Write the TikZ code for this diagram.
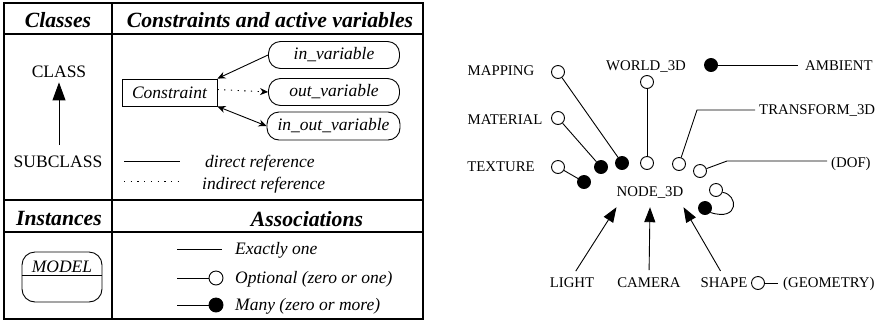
\documentclass[tikz,border=0pt]{standalone}
\usepackage{fontspec}
\setmainfont{Liberation Serif}
\usetikzlibrary{arrows.meta}

\begin{document}
\begin{tikzpicture}[x=1pt,y=-1pt,
  hdr/.style={font=\fontsize{21.7}{24}\selectfont\bfseries\itshape, anchor=base, inner sep=0pt},
  body/.style={font=\fontsize{17.5}{20}\selectfont, anchor=base, inner sep=0pt},
  ibody/.style={font=\fontsize{17.5}{20}\selectfont\itshape, anchor=base, inner sep=0pt},
  lbl/.style={font=\fontsize{14.8}{17}\selectfont, anchor=base, inner sep=0pt},
  rule/.style={line width=1.8pt},
  thin/.style={line width=0.9pt},
  sparse/.style={dash pattern=on 1.3pt off 5.4pt},
  var/.style={draw, thin, rounded corners=12pt, minimum width=131pt, minimum height=27pt,
    inner sep=0pt, font=\fontsize{17.5}{20}\selectfont\itshape},
  opt/.style={draw, thin, circle, fill=white, minimum size=13pt, inner sep=0pt},
  many/.style={draw, thin, circle, fill=black, minimum size=13pt, inner sep=0pt},
  small/.style={-{Stealth[length=8pt,width=7pt]}},
  bigtip/.style={-{Triangle[length=18pt,width=13pt]}},
  isa/.style={-{Triangle[length=15pt,width=11pt]}},
]
\useasboundingbox (0,0) rectangle (875,325);

% ---------------- legend table ----------------
\draw[rule] (4,3) rectangle (423,319);
\draw[rule] (112,3) -- (112,319);
\draw[rule] (4,34) -- (423,34);
\draw[rule] (4,200) -- (423,200);
\draw[rule] (4,232) -- (423,232);

\node[hdr] (hclasses) at (58,27) {Classes};
\node[hdr] (hcons) at (270,27) {Constraints and active variables};
\node[hdr] (hinst) at (59,225) {Instances};
\node[hdr] (hassoc) at (307,226) {Associations};

% class / subclass
\node[body] (cls) at (59,77) {CLASS};
\node[body] (sub) at (58,167) {SUBCLASS};
\draw[thin, bigtip, shorten <=10pt, shorten >=5pt] (sub.north -| cls.south) -- (cls.south);

% constraint and variables
\node[draw, thin, minimum width=95pt, minimum height=27pt, inner sep=0pt,
      font=\fontsize{17.5}{20}\selectfont\itshape] (con) at (169.5,92.5) {Constraint};
\node[var] (inv) at (334,55) {in\_variable};
\node[var] (outv) at (334,92) {out\_variable};
\node[var, minimum width=133pt, minimum height=28pt] (inoutv) at (333.5,126) {in\_out\_variable};
\draw[thin, small] (inv.west) -- (con.north east);
\draw[thin, sparse, small] ([yshift=3pt]con.east) -- (outv.west);
\draw[thin, {Stealth[length=8pt,width=7pt]}-{Stealth[length=8pt,width=7pt]}] (con.south east) -- (inoutv.west);

% reference kinds
\coordinate (dA) at (124,161);
\coordinate (dB) at (180,161);
\coordinate (iA) at (124,181);
\coordinate (iB) at (180,181);
\draw[thin] (dA) -- (dB);
\draw[thin, sparse] (iA) -- (iB);
\node[ibody, anchor=base west] (dtxt) at (205,167) {direct reference};
\node[ibody, anchor=base west] (itxt) at (202,189) {indirect reference};

% instance symbol
\node[draw, thin, rounded corners=13pt, minimum width=80pt, minimum height=50pt] (model) at (62,277) {};
\draw[thin] ([yshift=2pt]model.west) -- ([yshift=2pt]model.east);
\node[ibody] (modelname) at (62,272) {MODEL};

% associations
\coordinate (eA) at (177,249);
\coordinate (eB) at (222,249);
\draw[thin] (eA) -- (eB);
\node[ibody, anchor=base west] (etxt) at (235,254) {Exactly one};
\coordinate (oA) at (177,278);
\node[opt, minimum size=14pt] (oC) at (216,278) {};
\draw[thin] (oA) -- (oC);
\node[ibody, anchor=base west] (otxt) at (235,283) {Optional (zero or one)};
\coordinate (mA) at (177,305);
\node[many, minimum size=14pt] (mC) at (216,305) {};
\draw[thin] (mA) -- (mC);
\node[ibody, anchor=base west] (mtxt) at (235,310) {Many (zero or more)};

% ---------------- NODE_3D schema ----------------
\node[lbl, text height=10pt, text depth=0pt, inner xsep=0pt, inner ysep=11pt, anchor=base]
  (n3d) at (650,196) {NODE\_3D};

\node[lbl] (mapping) at (501,75) {MAPPING};
\node[opt] (mapC) at (558,72) {};
\node[many] (mapF) at (622,163) {};
\draw[thin] (mapC) -- (mapF);

\node[lbl] (material) at (505,124) {MATERIAL};
\node[opt] (matC) at (558,118) {};
\node[many] (matF) at (601,167) {};
\draw[thin] (matC) -- (matF);

\node[lbl] (texture) at (501,171) {TEXTURE};
\node[opt] (texC) at (558,167) {};
\node[many] (texF) at (584,182) {};
\draw[thin] (texC) -- (texF);

\node[lbl] (world) at (646,70) {WORLD\_3D};
\node[opt] (worldC) at (647,82) {};
\node[opt] (worldB) at (647,163) {};
\draw[thin] (worldC) -- (worldB);

\node[many] (ambF) at (711,65) {};
\node[lbl, anchor=base west] (ambient) at (805,70) {AMBIENT};
\draw[thin] (ambF) -- ([xshift=-7pt]ambient.west |- ambF);

\node[lbl, anchor=base west] (transform) at (759,114) {TRANSFORM\_3D};
\coordinate (trK) at (697,110);
\node[opt] (trB) at (679,164) {};
\draw[thin] ([xshift=-4pt]transform.west |- trK) -- (trK) -- (trB);

\node[lbl, anchor=base west] (dof) at (831,167) {(DOF)};
\coordinate (dofK) at (727,161);
\node[opt] (dofB) at (700,171) {};
\draw[thin] ([xshift=-4pt]dof.west |- dofK) -- (dofK) -- (dofB);

\node[opt] (loopO) at (716,190) {};
\node[many] (loopF) at (705,208) {};
\draw[thin] (loopO.-20) .. controls (738,194) and (740,222) .. (loopF.-40);

\node[lbl] (light) at (572,287) {LIGHT};
\node[lbl] (camera) at (649,287) {CAMERA};
\node[lbl] (shape) at (724,287) {SHAPE};
\draw[thin, isa, shorten <=7pt] (light.north) -- (n3d.south west);
\draw[thin, isa, shorten <=7pt] (camera.north) -- (n3d.south);
\draw[thin, isa, shorten <=7pt] (shape.north) -- (n3d.south east);

\node[opt] (shapeC) at (758,283) {};
\node[lbl, anchor=base west] (geometry) at (783,287) {(GEOMETRY)};
\draw[thin] (shapeC) -- ([xshift=-5pt]geometry.west |- shapeC);
\end{tikzpicture}
\end{document}
